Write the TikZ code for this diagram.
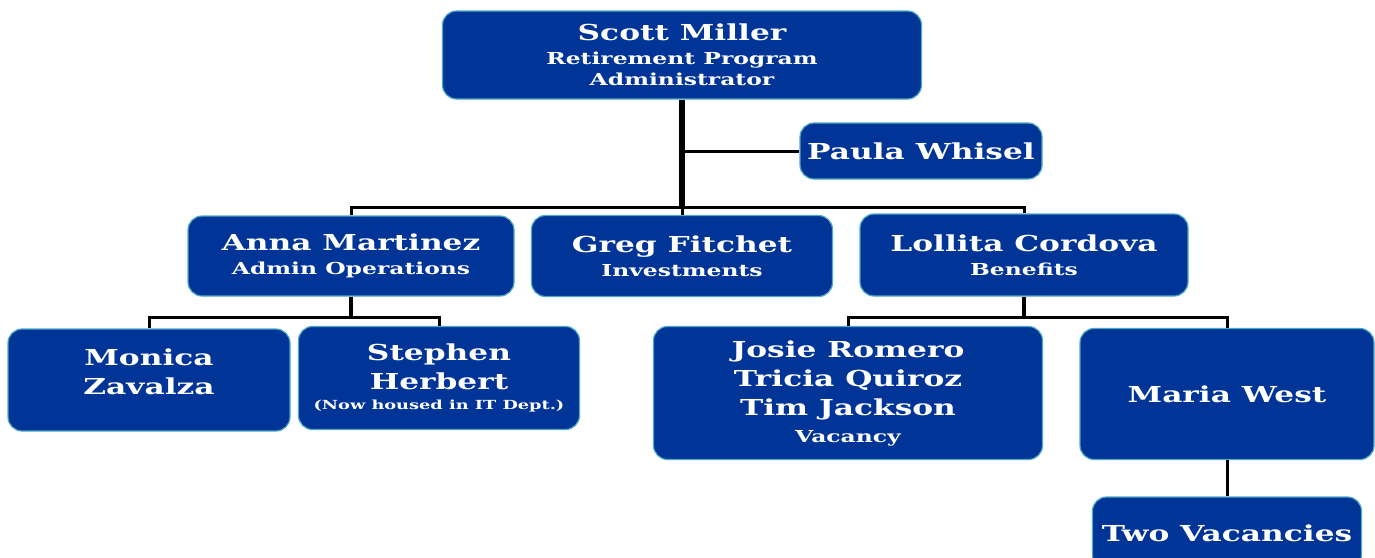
\documentclass[tikz,border=0pt]{standalone}
\usepackage{fontspec}
\setmainfont{DejaVu Serif}[FakeStretch=1.42]
\usetikzlibrary{positioning}
\definecolor{cardblue}{RGB}{0,52,150}
\definecolor{cardrim}{RGB}{78,170,196}
\newcommand{\bigname}{\fontsize{22}{29}\selectfont}
\newcommand{\subline}{\fontsize{16.5}{21}\selectfont}
\newcommand{\tinynote}{\fontsize{12.5}{14}\selectfont}

\begin{document}
\begin{tikzpicture}[
  x=1pt, y=-1pt,
  card/.style={draw=cardrim, fill=cardblue, line width=1.2pt, rounded corners=14pt,
               text=white, align=center, inner sep=2pt, font=\bfseries\bigname},
  trunk/.style={line width=6pt},
  stem/.style={line width=4.5pt},
  twig/.style={line width=3pt}
]
\useasboundingbox (0,0) rectangle (1375,557);
% top
\node[card, minimum width=479, minimum height=88] (scott) at (682,55)
  {Scott Miller\\[-5pt]\subline Retirement Program\\[-8pt]\subline Administrator};
\node[card, minimum width=242, minimum height=56] (paula) at (921,151) {Paula Whisel};
% managers
\node[card, minimum width=326, minimum height=80] (anna) at (351,256)
  {Anna Martinez\\[-5pt]\subline Admin Operations};
\node[card, minimum width=301, minimum height=81] (greg) at (682,256)
  {Greg Fitchet\\[-5pt]\subline Investments};
\node[card, minimum width=328, minimum height=82] (lollita) at (1024,255)
  {Lollita Cordova\\[-5pt]\subline Benefits};
% staff
\node[card, minimum width=282, minimum height=102] (monica) at (149,380)
  {Monica\\Zavalza\\[-12pt]};
\node[card, minimum width=281, minimum height=103] (stephen) at (439,378)
  {Stephen\\Herbert\\[-9pt]\tinynote (Now housed in IT Dept.)};
\node[card, minimum width=389, minimum height=133] (josie) at (848,393)
  {Josie Romero\\Tricia Quiroz\\Tim Jackson\\[-2pt]\subline Vacancy};
\node[card, minimum width=294, minimum height=131] (maria) at (1227,394) {Maria West};
\node[card, minimum width=269, minimum height=72] (vac) at (1227,533) {Two Vacancies};

\coordinate (hub) at (682,207);
\coordinate (side) at (682,151);
\coordinate (annahub) at (351,317);
\coordinate (benhub) at (1024,317);

\draw[trunk] (scott.south) -- (hub);
\draw[twig] (side) -- (paula.west);
\draw[twig] (anna.north) |- (hub) -| (lollita.north);
\draw[twig] (hub) -- (greg.north);
\draw[stem] (anna.south) -- (annahub);
\draw[twig] (monica.north) |- (annahub) -| (stephen.north);
\draw[stem] (lollita.south) -- (benhub);
\draw[twig] (josie.north) |- (benhub) -| (maria.north);
\draw[twig] (maria.south) -- (vac.north);
\end{tikzpicture}
\end{document}
